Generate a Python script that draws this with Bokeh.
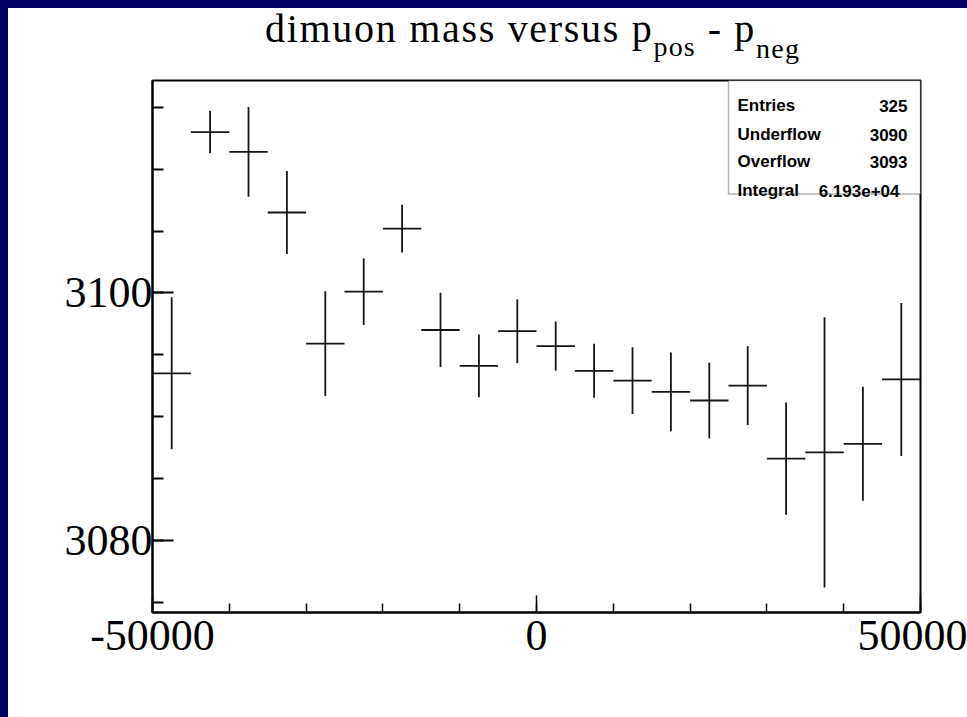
from bokeh.plotting import figure
from bokeh.models import ColumnDataSource, FixedTicker, Range1d, BoxAnnotation, Label, Div
from bokeh.layouts import column, row
from bokeh.embed import file_html
from bokeh.resources import INLINE

# ---------------- data ----------------
bin_centers = [-47500, -42500, -37500, -32500, -27500, -22500, -17500, -12500,
               -7500, -2500, 2500, 7500, 12500, 17500, 22500, 27500,
               32500, 37500, 42500, 47500]
bin_half_width = 2500
mass_mean = [3093.5, 3113.0, 3111.4, 3106.5, 3095.9, 3100.1, 3105.2, 3097.0,
             3094.1, 3096.9, 3095.7, 3093.7, 3092.9, 3092.0, 3091.3, 3092.5,
             3086.6, 3087.1, 3087.8, 3093.0]
mass_err = [6.15, 1.72, 3.63, 3.36, 4.23, 2.69, 1.93, 3.00,
            2.53, 2.57, 1.99, 2.18, 2.70, 3.18, 3.06, 3.19,
            4.53, 10.92, 4.61, 6.18]

x_major_ticks = [-50000, 0, 50000]
x_tick_labels = ["-50000", "0", "50000"]
x_minor_ticks = [-50000, -40000, -30000, -20000, -10000, 0, 10000, 20000, 30000, 40000, 50000]
y_major_ticks = [3080, 3100]
y_tick_labels = ["3080", "3100"]
y_minor_ticks = [3075, 3080, 3085, 3090, 3095, 3100, 3105, 3110, 3115]

stats_names = ["Entries", "Underflow", "Overflow"]
stats_values = ["325", "3090", "3093"]
integral_name = "Integral"
integral_value = "6.193e+04"

x_lo, x_hi = -50000, 50000
y_lo, y_hi = 3074.16, 3117.17

serif = "Liberation Serif"
sans = "Liberation Sans"
navy = "#000066"

# ---------------- title (HTML, with subscripts) ----------------
title_html = (
    '<div style="font-family:\'Liberation Serif\';font-size:40px;line-height:44px;'
    'letter-spacing:1.7px;white-space:nowrap;color:black;padding-left:257px;'
    'position:relative;top:-1px;">'
    'dimuon mass versus p'
    '<span style="font-size:28px;letter-spacing:1.2px;position:relative;top:14px;">pos</span>'
    ' - p'
    '<span style="font-size:28px;letter-spacing:1.2px;position:relative;top:16px;">neg</span>'
    '</div>'
)
title_div = Div(text=title_html, width=959, height=66, margin=(0, 0, 0, 0),
                styles={"background-color": "white", "overflow": "visible"})

# ---------------- figure ----------------
p = figure(width=959, height=643, output_backend="svg", toolbar_location=None,
           x_range=Range1d(x_lo, x_hi), y_range=Range1d(y_lo, y_hi),
           min_border_left=144, min_border_right=47,
           min_border_top=6, min_border_bottom=105,
           background_fill_color="white", border_fill_color="white",
           margin=(0, 0, 0, 0))
p.xgrid.visible = False
p.ygrid.visible = False
p.outline_line_color = "black"
p.outline_line_width = 2

xa = p.xaxis[0]
xa.ticker = FixedTicker(ticks=x_major_ticks, minor_ticks=x_minor_ticks)
xa.major_label_overrides = {t: s for t, s in zip(x_major_ticks, x_tick_labels)}
xa.axis_line_width = 2
xa.axis_line_color = "black"
xa.major_tick_in = 17
xa.major_tick_out = 0
xa.minor_tick_in = 9
xa.minor_tick_out = 0
xa.major_tick_line_width = 1.5
xa.minor_tick_line_width = 1.5
xa.major_label_text_font = serif
xa.major_label_text_font_size = "44px"
xa.major_label_text_color = "black"
xa.major_label_standoff = 8

ya = p.yaxis[0]
ya.ticker = FixedTicker(ticks=y_major_ticks, minor_ticks=y_minor_ticks)
ya.major_label_overrides = {t: s for t, s in zip(y_major_ticks, y_tick_labels)}
ya.axis_line_width = 2
ya.axis_line_color = "black"
ya.major_tick_in = 21
ya.major_tick_out = 0
ya.minor_tick_in = 11
ya.minor_tick_out = 0
ya.major_tick_line_width = 2
ya.minor_tick_line_width = 2
ya.major_label_text_font = serif
ya.major_label_text_font_size = "44px"
ya.major_label_text_color = "black"
ya.major_label_standoff = 0

# ---------------- data marks ----------------
src = ColumnDataSource(dict(
    x=bin_centers,
    xl=[c - bin_half_width for c in bin_centers],
    xr=[c + bin_half_width for c in bin_centers],
    y=mass_mean,
    ylo=[m - e for m, e in zip(mass_mean, mass_err)],
    yhi=[m + e for m, e in zip(mass_mean, mass_err)],
))
p.segment(x0="xl", y0="y", x1="xr", y1="y", source=src, line_color="#151515", line_width=1.8)
p.segment(x0="x", y0="ylo", x1="x", y1="yhi", source=src, line_color="#151515", line_width=1.8)

# ---------------- stats box ----------------
box_left, box_bottom = 25000, 3108.0
p.add_layout(BoxAnnotation(left=box_left, right=x_hi, bottom=box_bottom, top=y_hi,
                           fill_color="white", fill_alpha=1.0,
                           line_color="black", line_width=1.5, level="overlay"))

def stat_label(x, xo, yo, txt, align):
    return Label(x=x, y=box_bottom, x_offset=xo, y_offset=yo, text=txt,
                 text_font=sans, text_font_style="bold", text_font_size="17px",
                 text_align=align, text_baseline="alphabetic", text_color="black",
                 level="overlay")

row_offsets = [88, 59, 32]
for name, val, off in zip(stats_names, stats_values, row_offsets):
    p.add_layout(stat_label(box_left, 9, off, name, "left"))
    p.add_layout(stat_label(x_hi, -13, off, val, "right"))
p.add_layout(stat_label(box_left, 9, 3, integral_name, "left"))
p.add_layout(stat_label(x_hi, -21, 3, integral_value, "right"))

# ---------------- navy frame (left and top strips) ----------------
top_strip = Div(text="", width=967, height=8, margin=(0, 0, 0, 0),
                styles={"background-color": navy})
left_strip = Div(text="", width=8, height=709, margin=(0, 0, 0, 0),
                 styles={"background-color": navy})
content = column(title_div, p, spacing=0, margin=(0, 0, 0, 0),
                 styles={"background-color": "white"})
layout = column(top_strip, row(left_strip, content, spacing=0, margin=(0, 0, 0, 0)),
                spacing=0, margin=(0, 0, 0, 0))

html = file_html(layout, INLINE)
html = html.replace("</head>", "<style>html,body{overflow:hidden;}</style></head>", 1)
open("out.html", "w").write(html)
